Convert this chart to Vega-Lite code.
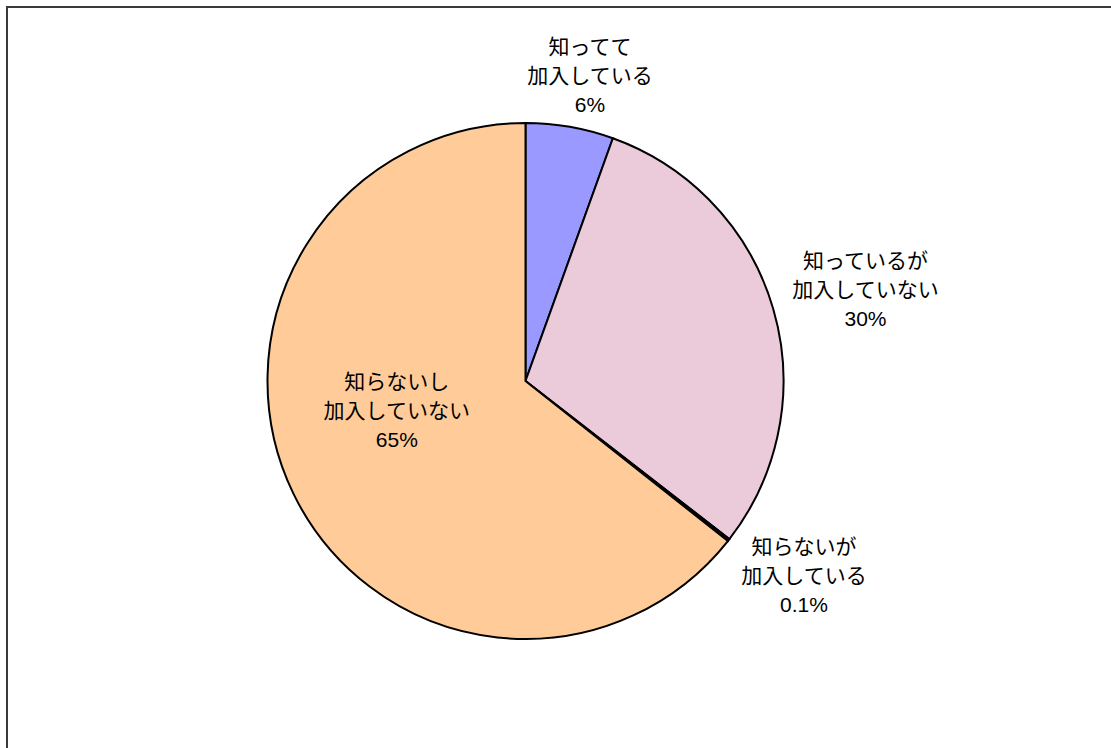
{
  "$schema": "https://vega.github.io/schema/vega-lite/v6.json",
  "autosize": "none",
  "width": 1200,
  "height": 800,
  "padding": {"left": 7, "top": 7, "right": 0, "bottom": 0},
  "background": "white",
  "view": {"stroke": "#3a3a3a", "strokeWidth": 2},
  "config": {
    "view": {"stroke": "#3a3a3a", "strokeWidth": 2},
    "text": {"font": "Liberation Sans, Noto Sans CJK JP", "fontSize": 21, "lineHeight": 29, "lineBreak": "\n", "color": "black", "align": "center", "baseline": "middle"}
  },
  "data": {
    "values": [
      {"n": 1, "区分": "知ってて加入している", "割合": 5.5, "label": "知ってて\n加入している\n6%"},
      {"n": 2, "区分": "知っているが加入していない", "割合": 30.0, "label": "知っているが\n加入していない\n30%"},
      {"n": 3, "区分": "知らないが加入している", "割合": 0.15, "label": "知らないが\n加入している\n0.1%"},
      {"n": 4, "区分": "知らないし加入していない", "割合": 64.35, "label": "知らないし\n加入していない\n65%"}
    ]
  },
  "encoding": {
    "theta": {"field": "割合", "type": "quantitative", "stack": true},
    "order": {"field": "n", "type": "quantitative"}
  },
  "layer": [
    {
      "mark": {"type": "arc", "x": 518.5, "y": 374, "outerRadius": 258, "stroke": "black", "strokeWidth": 2},
      "encoding": {
        "color": {
          "field": "区分",
          "type": "nominal",
          "scale": {
            "domain": ["知ってて加入している", "知っているが加入していない", "知らないが加入している", "知らないし加入していない"],
            "range": ["#9999FF", "#EBCADA", "#000080", "#FFCC99"]
          },
          "legend": null
        }
      }
    },
    {
      "mark": {"type": "text", "x": 518.5, "y": 374, "radius": 311, "dx": 11, "dy": -27},
      "encoding": {"text": {"condition": {"test": "datum.n == 1", "field": "label"}, "value": ""}}
    },
    {
      "mark": {"type": "text", "x": 518.5, "y": 374, "radius": 352, "dx": 2, "dy": -21},
      "encoding": {"text": {"condition": {"test": "datum.n == 2", "field": "label"}, "value": ""}}
    },
    {
      "mark": {"type": "text", "x": 518.5, "y": 374, "radius": 341, "dx": 10, "dy": -43},
      "encoding": {"text": {"condition": {"test": "datum.n == 3", "field": "label"}, "value": ""}}
    },
    {
      "mark": {"type": "text", "x": 518.5, "y": 374, "radius": 133, "dx": -9, "dy": -56},
      "encoding": {"text": {"condition": {"test": "datum.n == 4", "field": "label"}, "value": ""}}
    }
  ]
}
